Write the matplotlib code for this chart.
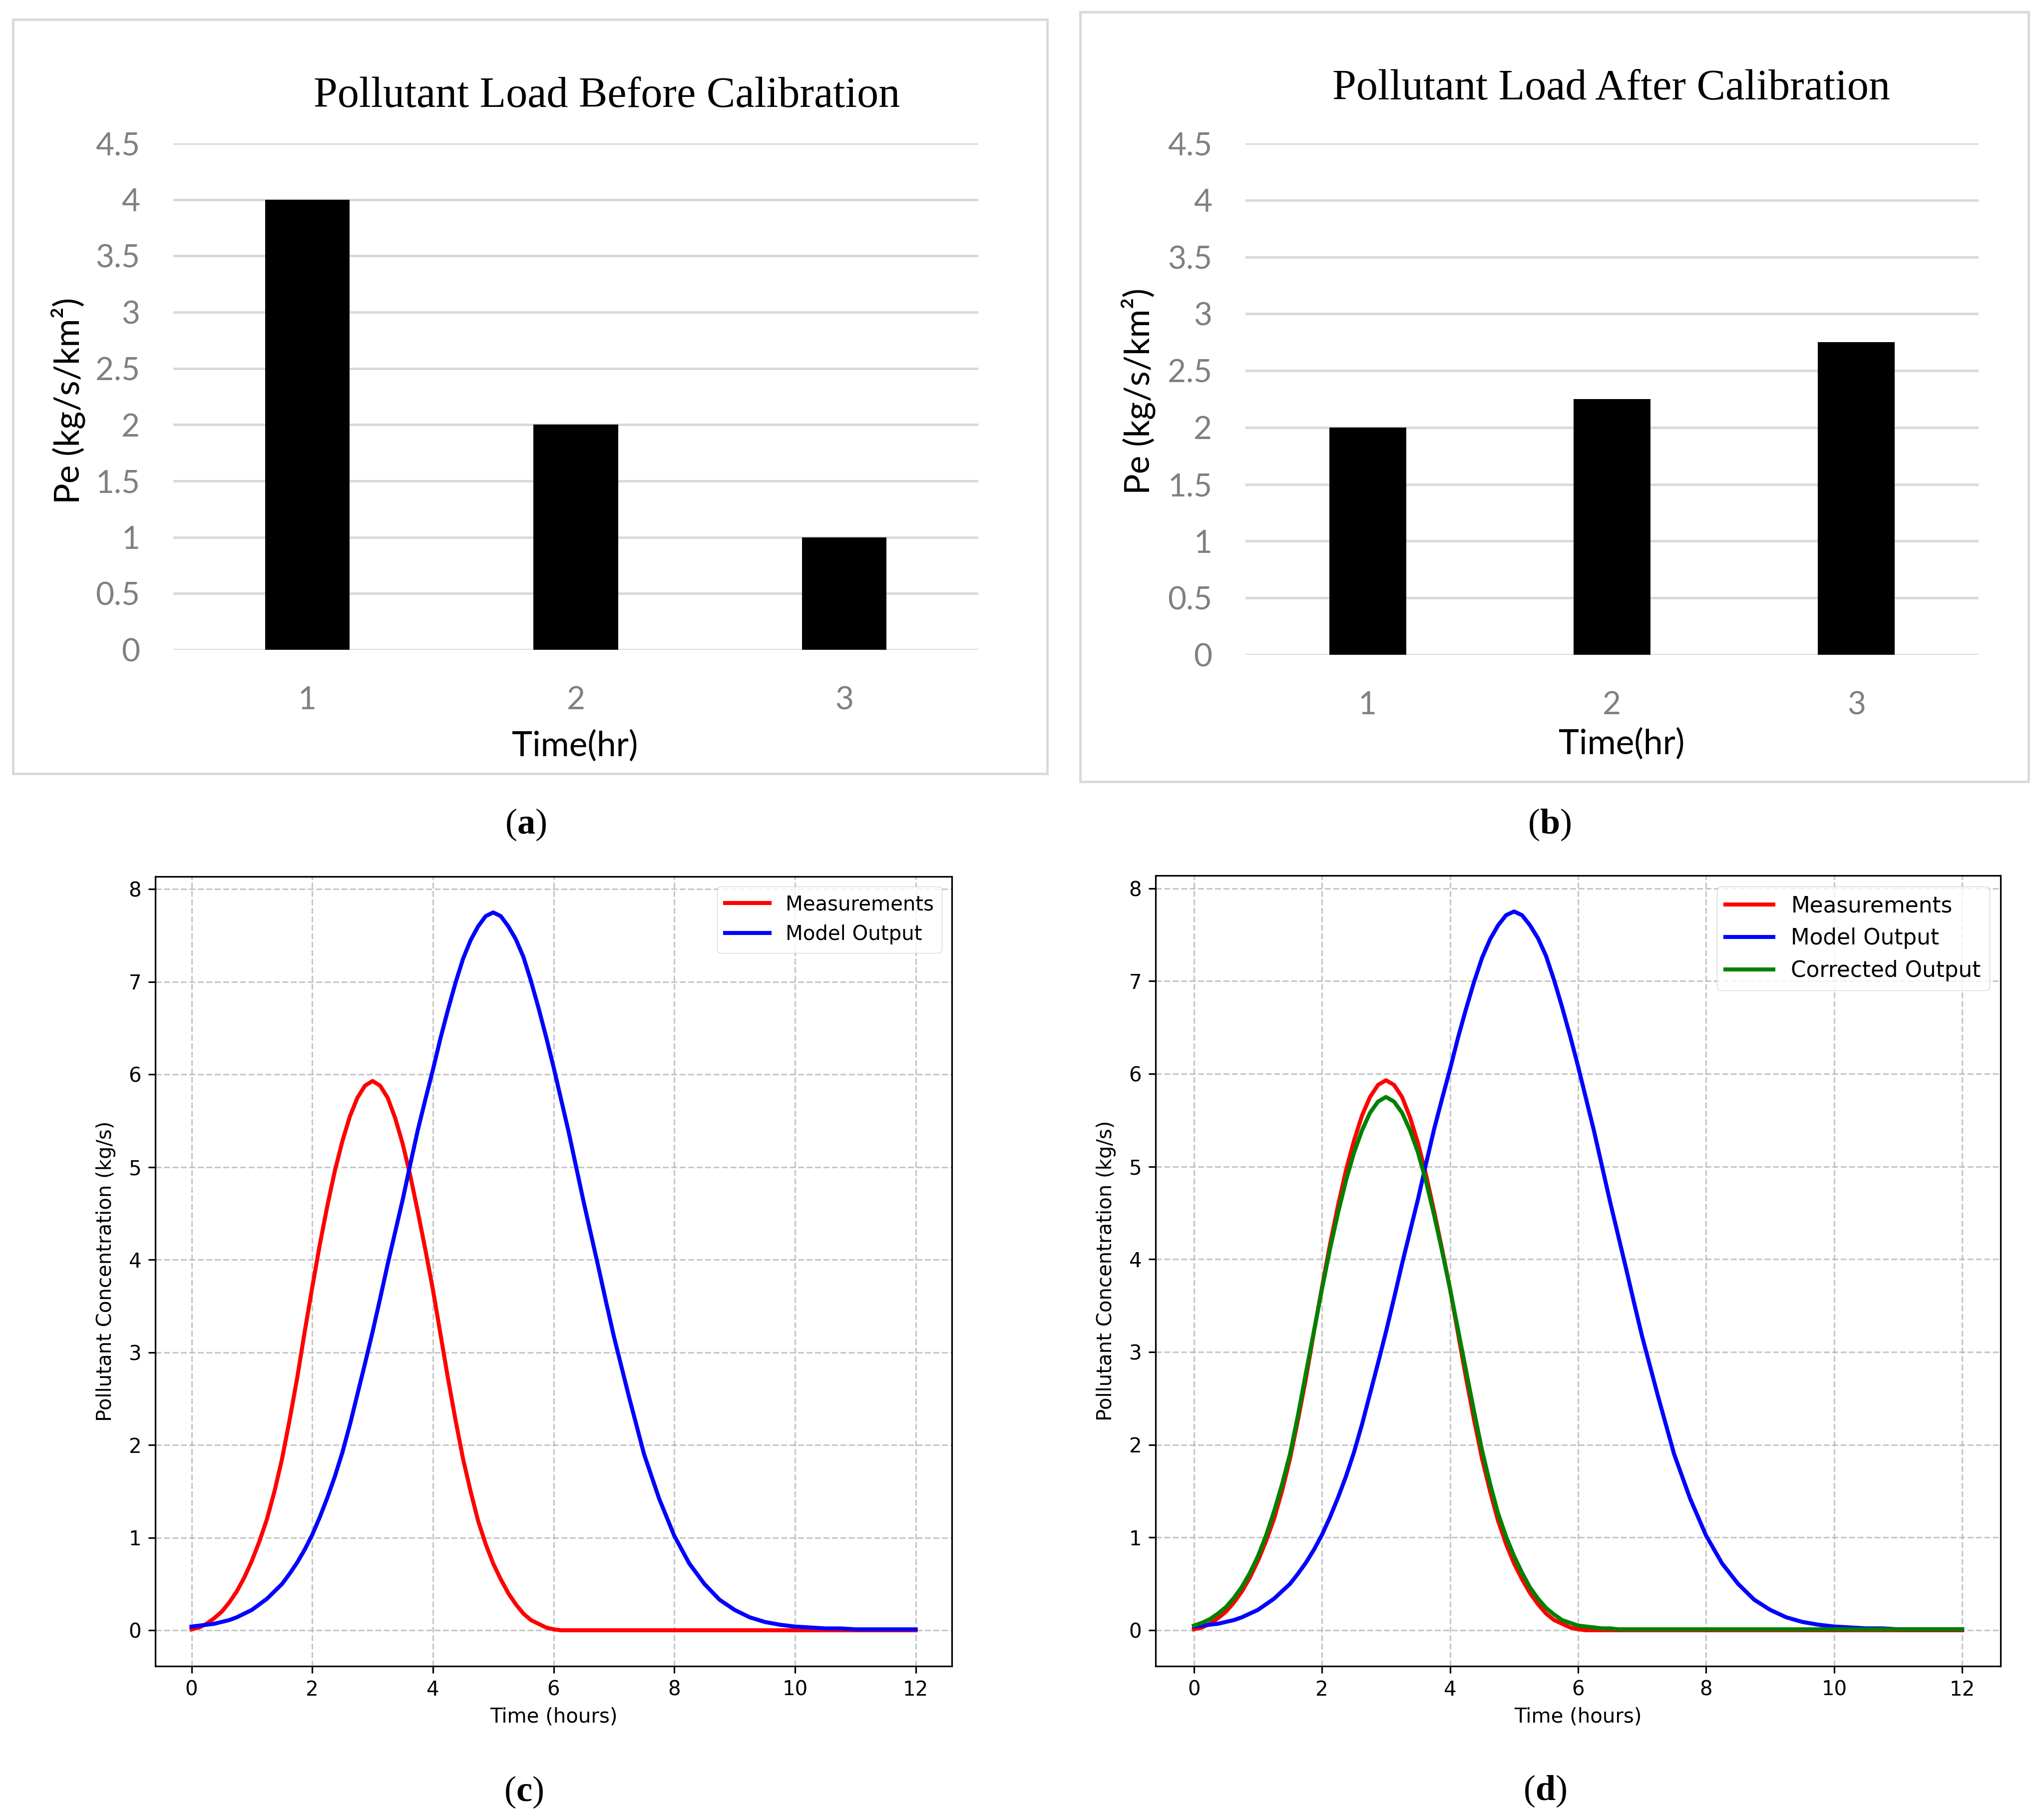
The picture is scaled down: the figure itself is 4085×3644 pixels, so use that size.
import matplotlib
matplotlib.use("Agg")
import matplotlib.pyplot as plt
from matplotlib.patches import Rectangle

# ---------------- data ----------------
bar_hours = [1, 2, 3]
bar_tick_labels = ["1", "2", "3"]
load_before = [4.0, 2.0, 1.0]
load_after = [2.0, 2.25, 2.75]
bar_yticks = [0, 0.5, 1, 1.5, 2, 2.5, 3, 3.5, 4, 4.5]
bar_ytick_labels = ["0", "0.5", "1", "1.5", "2", "2.5", "3", "3.5", "4", "4.5"]

time_h = [0.000, 0.125, 0.250, 0.375, 0.500, 0.625, 0.750, 0.875,
          1.000, 1.125, 1.250, 1.375, 1.500, 1.625, 1.750, 1.875,
          2.000, 2.125, 2.250, 2.375, 2.500, 2.625, 2.750, 2.875,
          3.000, 3.125, 3.250, 3.375, 3.500, 3.625, 3.750, 3.875,
          4.000, 4.125, 4.250, 4.375, 4.500, 4.625, 4.750, 4.875,
          5.000, 5.125, 5.250, 5.375, 5.500, 5.625, 5.750, 5.875,
          6.000, 6.125, 6.250, 6.375, 6.500, 6.625, 6.750, 6.875,
          7.00, 7.25, 7.50, 7.75, 8.00, 8.25, 8.50, 8.75, 9.00, 9.25,
          9.50, 9.75, 10.00, 10.25, 10.50, 10.75, 11.00, 11.25, 11.50, 11.75, 12.00]

measurements = [0.01, 0.03, 0.07, 0.13, 0.20, 0.30, 0.42, 0.57,
                0.75, 0.96, 1.20, 1.50, 1.85, 2.27, 2.72, 3.22,
                3.70, 4.16, 4.58, 4.96, 5.28, 5.55, 5.75, 5.88,
                5.93, 5.88, 5.75, 5.53, 5.25, 4.91, 4.52, 4.11,
                3.68, 3.20, 2.72, 2.27, 1.85, 1.50, 1.18, 0.93,
                0.72, 0.55, 0.40, 0.28, 0.18, 0.11, 0.07, 0.03,
                0.01, 0.00, 0.00, 0.00, 0.00, 0.00, 0.00, 0.00,
                0.00, 0.00, 0.00, 0.00, 0.00, 0.00, 0.00, 0.00, 0.00, 0.00,
                0.00, 0.00, 0.00, 0.00, 0.00, 0.00, 0.00, 0.00, 0.00, 0.00, 0.00]

model_output = [0.04, 0.05, 0.06, 0.07, 0.09, 0.11, 0.14, 0.18,
                0.22, 0.28, 0.34, 0.42, 0.50, 0.61, 0.73, 0.87,
                1.03, 1.22, 1.43, 1.66, 1.92, 2.22, 2.55, 2.88,
                3.22, 3.58, 3.95, 4.30, 4.65, 5.03, 5.40, 5.73,
                6.05, 6.39, 6.70, 6.99, 7.25, 7.45, 7.60, 7.71,
                7.75, 7.71, 7.60, 7.46, 7.27, 7.01, 6.72, 6.41,
                6.08, 5.73, 5.38, 5.00, 4.62, 4.26, 3.90, 3.53,
                3.17, 2.52, 1.90, 1.42, 1.02, 0.72, 0.50, 0.33, 0.22, 0.14,
                0.09, 0.06, 0.04, 0.03, 0.02, 0.02, 0.01, 0.01, 0.01, 0.01, 0.01]

corrected_output = [0.05, 0.08, 0.12, 0.18, 0.25, 0.35, 0.47, 0.62,
                    0.80, 1.02, 1.28, 1.57, 1.90, 2.32, 2.78, 3.23,
                    3.68, 4.11, 4.50, 4.85, 5.15, 5.39, 5.58, 5.70,
                    5.75, 5.70, 5.58, 5.39, 5.15, 4.84, 4.48, 4.09,
                    3.68, 3.24, 2.80, 2.36, 1.94, 1.58, 1.26, 1.01,
                    0.80, 0.62, 0.46, 0.34, 0.24, 0.17, 0.11, 0.08,
                    0.05, 0.04, 0.03, 0.02, 0.02, 0.01, 0.01, 0.01,
                    0.01, 0.01, 0.01, 0.01, 0.01, 0.01, 0.01, 0.01, 0.01, 0.01,
                    0.01, 0.01, 0.01, 0.01, 0.01, 0.01, 0.01, 0.01, 0.01, 0.01, 0.01]

line_xticks = [0, 2, 4, 6, 8, 10, 12]
line_yticks = [0, 1, 2, 3, 4, 5, 6, 7, 8]

# ---------------- style ----------------
plt.rcParams['mathtext.fontset'] = 'custom'
plt.rcParams['mathtext.rm'] = 'Liberation Serif'
plt.rcParams['mathtext.bf'] = 'Liberation Serif:bold'

W, H = 4085, 3644
fig = plt.figure(figsize=(W / 100, H / 100), dpi=100)
fig.patch.set_facecolor('white')

GRID_GRAY = '#d9d9d9'
TICK_GRAY = '#808080'
SANS_XL = 'Lato'
SERIF = 'Liberation Serif'


def px_rect(x0, y0, x1, y1):
    return [x0 / W, 1 - y1 / H, (x1 - x0) / W, (y1 - y0) / H]


def bar_panel(rect, values, title, title_xy, ylab_xy, xlab_xy, frame):
    fr = frame
    fig.patches.append(Rectangle((fr[0] / W, 1 - fr[3] / H), (fr[2] - fr[0]) / W,
                                 (fr[3] - fr[1]) / H, transform=fig.transFigure,
                                 fill=False, edgecolor=GRID_GRAY, linewidth=3.5))
    ax = fig.add_axes(px_rect(*rect))
    ax.bar(bar_hours, values, width=0.315, color='black', zorder=3)
    ax.set_xlim(0.5, 3.5)
    ax.set_ylim(0, 4.5)
    ax.set_yticks(bar_yticks)
    ax.set_yticklabels(bar_ytick_labels)
    ax.set_xticks(bar_hours)
    ax.set_xticklabels(bar_tick_labels)
    ax.yaxis.grid(True, color=GRID_GRAY, linewidth=3.5, zorder=0)
    ax.set_axisbelow(True)
    for s in ax.spines.values():
        s.set_visible(False)
    ax.tick_params(axis='both', length=0, labelsize=46, labelcolor=TICK_GRAY)
    ax.tick_params(axis='y', pad=48)
    ax.tick_params(axis='x', pad=52)
    for lab in ax.get_xticklabels() + ax.get_yticklabels():
        lab.set_fontfamily(SANS_XL)
    ax.set_ylabel("Pe (kg/s/km²)", fontsize=50, fontfamily=SANS_XL, color='black')
    ax.set_xlabel("Time(hr)", fontsize=50, fontfamily=SANS_XL, color='black')
    ax.yaxis.set_label_coords(*ylab_xy)
    ax.xaxis.set_label_coords(*xlab_xy)
    ax.xaxis.label.set_va('center')
    ax.yaxis.label.set_va('center')
    fig.text(title_xy[0] / W, 1 - title_xy[1] / H, title, fontsize=62,
             fontfamily=SERIF, ha='center', va='center')
    return ax


bar_panel((347, 287, 1959, 1301), load_before, "Pollutant Load Before Calibration",
          (1215, 193), (-0.131, 0.492), (0.499, -0.190), (26, 39, 2097, 1549))
bar_panel((2494, 287, 3962, 1311), load_after, "Pollutant Load After Calibration",
          (3226, 178), (-0.146, 0.515), (0.513, -0.174), (2163, 24, 4062, 1565))

LW = 5.8
SP = 2.3


def line_panel(rect, series, ylab_x, fs, legend_fs):
    ax = fig.add_axes(px_rect(*rect))
    for vals, col, lab in series:
        ax.plot(time_h, vals, color=col, linewidth=LW, label=lab)
    ax.set_xticks(line_xticks)
    ax.set_yticks(line_yticks)
    ax.grid(True, linestyle='--', color='#b0b0b0', alpha=0.7, linewidth=SP)
    for s in ax.spines.values():
        s.set_linewidth(SP)
    ax.tick_params(labelsize=fs, length=10, width=SP, pad=10)
    ax.set_xlabel("Time (hours)", fontsize=fs, labelpad=10)
    ax.set_ylabel("Pollutant Concentration (kg/s)", fontsize=fs)
    ax.yaxis.set_label_coords(ylab_x, 0.5)
    ax.yaxis.label.set_va('center')
    ax.legend(fontsize=legend_fs, loc='upper right', handlelength=2.2)
    return ax


line_panel((311, 1755, 1906, 3336),
           [(measurements, 'red', 'Measurements'), (model_output, 'blue', 'Model Output')],
           -0.062, 29, 29)
line_panel((2314, 1753, 4006, 3336),
           [(measurements, 'red', 'Measurements'), (model_output, 'blue', 'Model Output'),
            (corrected_output, 'green', 'Corrected Output')],
           -0.0585, 29, 31.5)

for letter, (cx, cy) in zip("abcd", [(1053, 1651), (3103, 1651), (1049, 3588), (3094, 3586)]):
    fig.text(cx / W, 1 - cy / H, "($\\mathbf{%s}$)" % letter, fontsize=52,
             fontfamily=SERIF, ha='center', va='center')

fig.savefig("out.png", dpi=100, facecolor='white')
